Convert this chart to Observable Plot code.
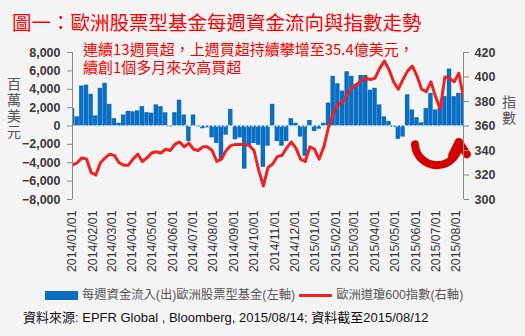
<!DOCTYPE html>
<html><head><meta charset="utf-8">
<script src="https://cdn.jsdelivr.net/npm/d3@7"></script>
<script src="https://cdn.jsdelivr.net/npm/@observablehq/plot@0.6"></script>
<style>
body{margin:0;background:#f5f4f5;}
#wrap{position:relative;width:525px;height:336px;overflow:hidden;font-family:"Liberation Sans",Arial,"Noto Sans CJK TC",sans-serif;}
#title{position:absolute;left:12px;top:8px;font-size:19.5px;color:#f00;font-family:"Noto Sans CJK TC",sans-serif;line-height:28px;white-space:nowrap;}
#chart{position:absolute;left:0;top:36px;}
#note{position:absolute;left:83px;top:40px;font-size:15px;line-height:17.5px;color:#f00;font-family:"Noto Sans CJK TC",sans-serif;white-space:pre;}
.vlab{position:absolute;writing-mode:vertical-rl;font-size:14px;line-height:14px;letter-spacing:2px;color:#555;font-family:"Noto Sans CJK TC",sans-serif;}
#ylabL{left:7px;top:77px;}
#ylabR{left:502px;top:95px;}
#legend{position:absolute;left:45px;top:287px;font-size:12.3px;color:#555;white-space:nowrap;line-height:16px;display:flex;align-items:center;}
#legend .sw{display:inline-block;width:33px;height:9px;background:#0a6fc2;margin-right:4px;}
#legend .ln{display:inline-block;width:33px;height:3px;background:#ee2222;margin:0 4px 0 4px;}
#source{position:absolute;left:23px;top:309px;font-size:13px;color:#111;white-space:nowrap;line-height:18px;}
</style></head>
<body><div id="wrap">
<div id="title">圖一：歐洲股票型基金每週資金流向與指數走勢</div>
<div id="chart"></div>
<div id="note"></div>
<div class="vlab" id="ylabL">百萬美元</div>
<div class="vlab" id="ylabR">指數</div>
<div id="legend"><span class="sw"></span><span>每週資金流入(出)歐洲股票型基金(左軸)</span><span class="ln"></span><span>歐洲道瓊600指數(右軸)</span></div>
<div id="source">資料來源: EPFR Global , Bloomberg, 2015/08/14; 資料截至2015/08/12</div>
</div>
<script>
// Weekly fund flows (USD millions), weeks ending Wednesday from 2014/01/01 to 2015/08/12
const flows = [1900,1000,4350,4450,3450,1100,4100,4650,2350,800,
  300,1200,1600,1550,1650,2100,1450,1400,2300,2100,
  1450,-100,1450,2800,1200,-1700,1200,-100,-300,-200,
  -1300,-1900,-3700,-1000,1800,-1500,-1300,-4700,-2200,-1900,
  -2100,-4500,-2200,2350,-1700,-2200,-1700,800,300,-1200,
  -3300,600,-600,-350,300,2500,5400,4600,3800,5900,
  5400,4500,5500,5500,3900,4100,2300,1000,500,-150,
  -1450,-1200,3400,1750,900,350,1900,3550,1750,1900,
  3200,6200,3200,3550,3540];
// STOXX Europe 600 index, same weeks
const index600 = [328,330,334,333,322,320,330,334,337,336,
  330,328,328,333,337,331,334,338,339,338,
  341,340,345,347,343,346,341,340,343,343,
  340,331,333,340,344,345,345,345,344,340,
  324,311,326,329,335,336,342,347,342,333,
  331,343,341,333,343,359,370,378,379,386,
  391,394,397,399,398,399,407,413,406,396,
  390,398,405,409,401,390,388,396,384,374,
  400,399,396,403,383];
const leftTicks = [8000,6000,4000,2000,0,-2000,-4000,-6000,-8000];
const rightTicks = [420,400,380,360,340,320,300];
const monthTicks = ["2014-01-01","2014-02-01","2014-03-01","2014-04-01","2014-05-01","2014-06-01","2014-07-01","2014-08-01","2014-09-01","2014-10-01","2014-11-01","2014-12-01","2015-01-01","2015-02-01","2015-03-01","2015-04-01","2015-05-01","2015-06-01","2015-07-01","2015-08-01"].map(s=>new Date(s+"T00:00:00Z"));
const noteLines = ["連續13週買超，上週買超持續攀增至35.4億美元，","續創1個多月來次高買超"];
// decorative arrow in data units (date, index)
const arrowData = [{x1:new Date("2015-05-31T00:00:00Z"), y1:345, x2:new Date("2015-08-05T00:00:00Z"), y2:347}];

document.getElementById("note").textContent = noteLines.join("\n");

const start = new Date("2014-01-01T00:00:00Z");
const end = new Date("2015-08-12T00:00:00Z");
const weekDate = i => d3.utcDay.offset(start, 7*i);
const flowData = flows.map((v,i)=>({date:weekDate(i), v}));
const idxData = index600.map((v,i)=>({date:weekDate(i), v}));
const toL = v => (v-360)*8000/60;
const fromL = y => Math.round(y*60/8000+360);
const font = '"Liberation Sans",Arial,"Noto Sans CJK TC",sans-serif';

const chart = Plot.plot({
  width:525, height:250,
  marginLeft:72, marginRight:62, marginTop:16, marginBottom:87,
  style:{background:"transparent", fontFamily:font, overflow:"visible"},
  x:{type:"utc", domain:[start,end]},
  y:{domain:[-8000,8000]},
  marks:[
    Plot.rectY(flowData,{x1:d=>d3.utcHour.offset(d.date,-80), x2:d=>d3.utcHour.offset(d.date,80), y:"v", fill:"#0a6fc2", clip:true}),
    Plot.ruleY([0],{stroke:"#d6e6f5", strokeDasharray:"2,2", strokeWidth:1.5}),
    Plot.line(idxData,{x:"date", y:d=>toL(d.v), stroke:"#ee2222", strokeWidth:3, clip:true}),
    Plot.arrow(arrowData,{x1:"x1", y1:d=>toL(d.y1), x2:"x2", y2:d=>toL(d.y2), bend:-90, stroke:"#d40000", strokeWidth:8, headLength:12}),
    Plot.ruleX([start],{stroke:"#8a8a8a"}),
    Plot.ruleX([end],{stroke:"#8a8a8a"}),
    Plot.axisY({ticks:leftTicks, tickSize:5, tickPadding:7, fontWeight:"bold", fontSize:12.5, fill:"#3a3a3a", stroke:"#8a8a8a", label:null}),
    Plot.axisY({anchor:"right", ticks:rightTicks.map(toL), tickFormat:fromL, tickSize:5, tickPadding:6, fontWeight:"bold", fontSize:12.5, fill:"#3a3a3a", stroke:"#8a8a8a", label:null}),
    Plot.axisX({ticks:monthTicks, tickFormat:d3.utcFormat("%Y/%m/%d"), tickRotate:-90, tickSize:0, tickPadding:11, fontSize:12.3, fill:"#333", label:null})
  ]
});
document.getElementById("chart").appendChild(chart);
</script>
</body></html>
